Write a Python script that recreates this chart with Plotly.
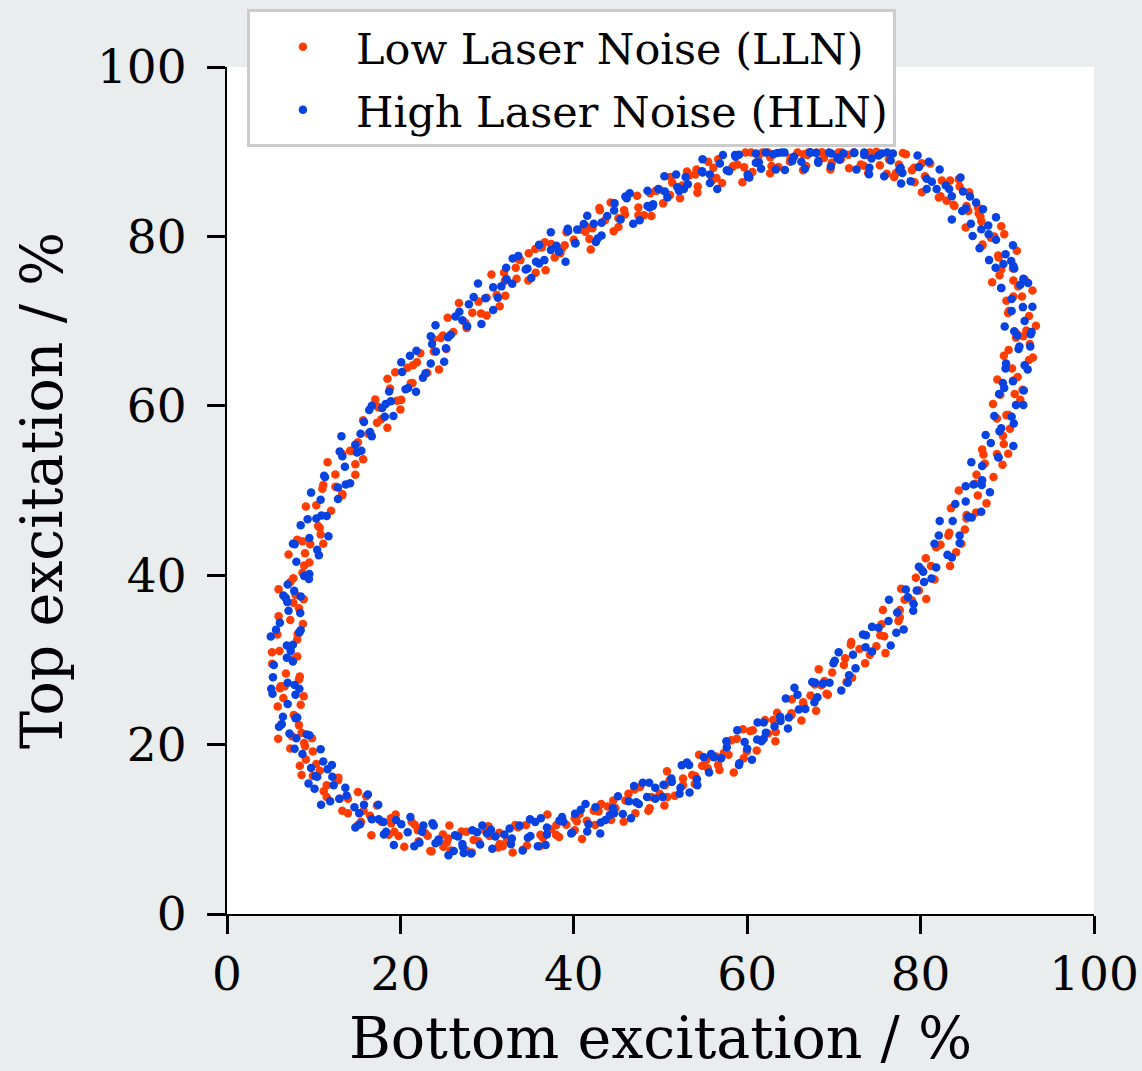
import plotly.graph_objects as go

# Points (Bottom %, Top %)
lln_points = [
    (92.6,67.3),(91.1,68.5),(92.2,68.9),(90.2,71.2),(91.7,72.9),(92.5,70.6),
    (90.7,72.9),(89.1,75.4),(92.0,74.9),(89.0,77.5),(91.1,78.3),(89.3,76.1),
    (89.3,81.2),(87.1,78.9),(88.5,80.0),(87.0,81.8),(85.5,83.0),(86.6,83.4),
    (83.0,84.2),(84.5,85.9),(85.3,83.6),(82.1,84.6),(80.5,87.1),(83.4,86.6),
    (79.0,87.8),(81.1,88.6),(79.3,86.4),(78.3,89.7),(76.1,87.4),(77.5,88.5),
    (75.3,88.4),(73.8,89.6),(74.9,90.0),(70.8,89.1),(72.3,89.9),(73.1,88.5),
    (69.6,87.9),(68.0,89.9),(70.9,89.9),(66.5,89.7),(68.6,89.9),(66.8,88.3),
    (65.8,89.9),(63.6,88.2),(65.0,89.3),(62.8,88.3),(61.3,89.5),(62.4,89.9),
    (58.3,88.2),(59.8,89.9),(60.6,87.6),(57.1,86.3),(55.5,88.8),(58.4,88.3),
    (54.0,87.3),(56.1,88.1),(54.3,85.9),(53.3,87.2),(51.1,84.9),(52.5,86.0),
    (50.3,83.9),(48.8,85.1),(49.9,85.5),(45.8,83.1),(47.3,84.8),(48.1,82.5),
    (44.6,80.6),(43.0,83.1),(45.9,82.6),(41.5,81.1),(43.6,81.9),(41.8,79.7),
    (40.8,80.8),(38.6,78.5),(40.0,79.6),(37.8,77.5),(36.3,78.7),(37.4,79.1),
    (33.3,76.3),(34.8,78.0),(35.6,75.7),(32.1,73.0),(30.5,75.5),(33.4,75.0),
    (29.0,72.3),(31.1,73.1),(29.3,70.9),(28.3,71.0),(26.1,68.7),(27.5,69.8),
    (25.3,66.7),(23.8,67.9),(24.9,68.3),(20.8,64.5),(22.3,66.2),(23.1,63.9),
    (20.1,60.7),(18.5,63.2),(21.4,62.7),(17.5,59.8),(19.6,60.6),(17.8,58.4),
    (17.3,58.0),(15.1,55.7),(16.5,56.8),(14.8,53.1),(13.3,54.3),(14.4,54.7),
    (11.0,50.2),(12.5,51.9),(13.3,49.6),(10.7,45.6),(9.1,48.1),(12.0,47.6),
    (8.7,44.0),(10.8,44.8),(9.0,42.6),(9.5,41.5),(7.3,39.2),(8.7,40.3),
    (8.3,36.1),(6.8,37.3),(7.9,37.7),(5.8,33.0),(7.3,34.7),(8.1,32.4),
    (6.8,28.4),(5.2,30.9),(8.1,30.4),(6.2,26.9),(8.3,27.7),(6.5,25.5),
    (8.5,24.7),(6.3,22.4),(7.7,23.5),(9.0,19.8),(7.5,21.0),(8.6,21.4),
    (8.4,17.5),(9.9,19.2),(10.7,16.9),(11.5,13.8),(9.9,16.3),(12.8,15.8),
    (13.0,13.6),(15.1,14.4),(13.3,12.2),(17.3,12.8),(15.1,10.5),(16.5,11.6),
    (19.3,9.7),(17.8,10.9),(18.9,11.3),(19.8,9.2),(21.3,10.9),(22.1,8.6),
    (23.6,7.4),(22.0,9.9),(24.9,9.4),(25.5,8.9),(27.6,9.7),(25.8,7.5),
    (29.8,9.8),(27.6,7.5),(29.0,8.6),(31.8,8.0),(30.3,9.2),(31.4,9.6),
    (32.3,8.7),(33.8,10.4),(34.6,8.1),(36.1,8.0),(34.5,10.5),(37.4,10.0),
    (38.0,10.5),(40.1,11.3),(38.3,9.1),(42.3,12.2),(40.1,9.9),(41.5,11.0),
    (44.3,11.1),(42.8,12.3),(43.9,12.7),(44.8,12.5),(46.3,14.2),(47.1,11.9),
    (48.6,12.2),(47.0,14.7),(49.9,14.2),(50.5,15.2),(52.6,16.0),(50.8,13.8),
    (54.8,17.5),(52.6,15.2),(54.0,16.3),(56.8,17.0),(55.3,18.2),(56.4,18.6),
    (57.3,19.0),(58.8,20.7),(59.6,18.4),(61.1,19.3),(59.5,21.8),(62.4,21.3),
    (63.0,22.9),(65.1,23.7),(63.3,21.5),(67.3,25.8),(65.1,23.5),(66.5,24.6),
    (69.3,25.9),(67.8,27.1),(68.9,27.5),(69.8,28.5),(71.3,30.2),(72.1,27.9),
    (73.6,29.6),(72.0,32.1),(74.9,31.6),(75.5,34.2),(77.6,35.0),(75.8,32.8),
    (79.8,38.2),(77.6,35.9),(79.0,37.0),(81.6,39.5),(80.1,40.7),(81.2,41.1),
    (81.8,43.3),(83.3,45.0),(84.1,42.7),(85.1,45.4),(83.5,47.9),(86.4,47.4),
    (86.3,50.8),(88.4,51.6),(86.6,49.4),(89.6,55.5),(87.4,53.2),(88.8,54.3),
    (90.3,57.3),(88.8,58.5),(89.9,58.9),(89.2,61.3),(90.7,63.0),(91.5,60.7),
    (91.2,63.4),(89.6,65.9),(92.5,65.4),
    (93.3,69.45),(91.0,68.05),(90.1,70.95),(90.7,74.8),(92.9,73.6),(89.9,72.4),
    (90.65,76.2),(88.25,74.6),(91.25,74.1),(87.15,79.05),(89.65,80.25),(88.95,77.75),
    (88.1,79.85),(86.9,82.35),(85.2,81.05),(85.6,85.2),(86.7,82.7),(83.9,83.6),
    (82.3,84.75),(84.4,86.75),(83.8,83.75),(82.45,86.6),(80.15,85.2),(79.25,88.1),
    (77.95,89.85),(80.15,88.65),(77.15,87.45),(76.35,89.1),(73.95,87.5),(76.95,87.0),
    (71.65,89.65),(74.15,89.9),(73.45,88.35),(71.75,88.05),(70.55,89.9),(68.85,89.25),
    (68.65,89.9),(69.75,88.7),(66.95,89.6),(64.95,88.8),(67.05,89.9),(66.45,87.8),
    (64.95,88.85),(62.65,87.45),(61.75,89.9),(60.45,89.9),(62.65,89.35),(59.65,88.15),
    (58.85,88.5),(56.45,86.9),(59.45,86.4),(54.15,87.9),(56.65,89.1),(55.95,86.6),
    (54.25,85.15),(53.05,87.65),(51.35,86.35),(51.15,87.0),(52.25,84.5),(49.45,85.4),
    (47.45,83.4),(49.55,85.4),(48.95,82.4),(47.45,82.5),(45.15,81.1),(44.25,84.0),
    (42.95,83.35),(45.15,82.15),(42.15,80.95),(41.35,80.55),(38.95,78.95),(41.95,78.45),
    (36.65,79.3),(39.15,80.5),(38.45,78.0),(36.75,76.0),(35.55,78.5),(33.85,77.2),
    (33.65,77.3),(34.75,74.8),(31.95,75.7),(29.95,72.75),(32.05,74.75),(31.45,71.75),
    (29.95,70.65),(27.65,69.25),(26.75,72.15),(25.45,70.4),(27.65,69.2),(24.65,68.0),
    (23.85,66.4),(21.45,64.8),(24.45,64.3),(19.4,63.95),(21.9,65.15),(21.2,62.65),
    (20.0,59.55),(18.8,62.05),(17.1,60.75),(17.4,59.9),(18.5,57.4),(15.7,58.3),
    (14.2,54.7),(16.3,56.7),(15.7,53.7),(14.8,51.85),(12.5,50.45),(11.6,53.35),
    (11.1,50.65),(13.3,49.45),(10.3,48.25),(10.5,45.8),(8.1,44.2),(11.1,43.7),
    (7.1,42.45),(9.6,43.65),(8.9,41.15),(8.85,37.15),(7.65,39.65),(5.95,38.35),
    (7.65,36.75),(8.75,34.25),(5.95,35.15),(6.05,31.05),(8.15,33.05),(7.55,30.05),
    (8.4,28.05),(6.1,26.65),(5.2,29.55),(6.65,26.9),(8.85,25.7),(5.85,24.5),
    (8.3,22.3),(5.9,20.7),(8.9,20.2),(7.3,19.55),(9.8,20.75),(9.1,18.25),
    (11.5,15.2),(10.3,17.7),(8.6,16.4),(12.85,16.1),(13.95,13.6),(11.15,14.5),
    (13.95,11.9),(16.05,13.9),(15.45,10.9),(18.95,10.7),(16.65,9.3),(15.75,12.2),
    (19.45,11.75),(21.65,10.55),(18.65,9.35),(22.85,9.55),(20.45,7.95),(23.45,7.45),
    (23.15,9.25),(25.65,10.45),(24.95,7.95),(28.25,7.25),(27.05,9.75),(25.35,8.45),
    (30.15,10.35),(31.25,7.85),(28.45,8.75),(31.45,8.25),(33.55,10.25),(32.95,7.25),
    (36.45,9.0),(34.15,7.6),(33.25,10.5),(36.95,11.75),(39.15,10.55),(36.15,9.35),
    (40.35,10.95),(37.95,9.35),(40.95,8.85),(40.65,11.8),(43.15,13.0),(42.45,10.5),
    (45.75,10.9),(44.55,13.4),(42.85,12.1),(47.65,15.0),(48.75,12.5),(45.95,13.4),
    (48.95,13.8),(51.05,15.8),(50.45,12.8),(53.95,15.35),(51.65,13.95),(50.75,16.85),
    (54.45,18.8),(56.65,17.6),(53.65,16.4),(57.85,18.8),(55.45,17.2),(58.45,16.7),
    (58.15,20.5),(60.65,21.7),(59.95,19.2),(63.25,20.4),(62.05,22.9),(60.35,21.6),
    (65.15,25.35),(66.25,22.85),(63.45,23.75),(66.45,25.0),(68.55,27.0),(67.95,24.0),
    (71.45,27.4),(69.15,26.0),(68.25,28.9),(71.95,31.8),(74.15,30.6),(71.15,29.4),
    (75.35,32.9),(72.95,31.3),(75.95,30.8),(75.65,35.9),(78.15,37.1),(77.45,34.6),
    (80.65,37.2),(79.45,39.7),(77.75,38.4),(82.3,43.6),(83.4,41.1),(80.6,42.0),
    (83.2,44.7),(85.3,46.7),(84.7,43.7),(87.6,48.5),(85.3,47.1),(84.4,50.0),
    (87.25,54.25),(89.45,53.05),(86.45,51.85),(89.5,56.45),(87.1,54.85),(90.1,54.35),
    (88.35,60.2),(90.85,61.4),(90.15,58.9),(91.75,61.9),(90.55,64.4),(88.85,63.1),
    (91.85,68.2),(92.95,65.7),(90.15,66.6),
]

hln_points = [
    (91.4,67.0),(92.8,68.7),(90.8,68.8),(92.0,70.0),(90.5,72.6),(92.9,71.7),
    (89.3,73.9),(90.8,76.2),(91.5,74.3),(90.7,76.5),(87.9,77.2),(89.8,77.9),
    (87.8,81.3),(88.7,79.6),(86.8,78.6),(85.8,81.5),(87.2,83.2),(85.2,83.3),
    (84.8,83.0),(83.3,85.6),(85.7,84.7),(80.7,85.6),(82.2,87.9),(82.9,86.0),
    (80.7,86.8),(77.9,87.5),(79.8,88.2),(76.8,89.8),(77.7,88.1),(75.8,87.1),
    (74.1,88.1),(75.5,89.8),(73.5,89.9),(72.6,87.9),(71.1,89.8),(73.5,89.6),
    (68.2,88.9),(69.7,89.8),(70.4,89.3),(68.2,88.7),(65.4,89.4),(67.3,89.9),
    (64.3,89.9),(65.2,88.9),(63.3,87.9),(61.6,88.0),(63.0,89.7),(61.0,89.8),
    (60.1,87.0),(58.6,89.6),(61.0,88.7),(55.7,87.3),(57.2,89.6),(57.9,87.7),
    (55.7,86.3),(52.9,87.0),(54.8,87.7),(51.8,87.3),(52.7,85.6),(50.8,84.6),
    (49.1,83.6),(50.5,85.3),(48.5,85.4),(47.6,81.9),(46.1,84.5),(48.5,83.6),
    (43.2,81.6),(44.7,83.9),(45.4,82.0),(43.2,80.1),(40.4,80.8),(42.3,81.5),
    (39.3,80.9),(40.2,79.2),(38.3,78.2),(36.6,77.2),(38.0,78.9),(36.0,79.0),
    (35.1,75.1),(33.6,77.7),(36.0,76.8),(30.7,74.0),(32.2,76.3),(32.9,74.4),
    (30.7,71.3),(27.9,72.0),(29.8,72.7),(26.8,71.1),(27.7,69.4),(25.8,68.4),
    (24.1,66.4),(25.5,68.1),(23.5,68.2),(22.6,63.3),(21.1,65.9),(23.5,65.0),
    (18.7,61.7),(20.2,64.0),(20.9,62.1),(19.2,58.8),(16.4,59.5),(18.3,60.2),
    (15.8,58.1),(16.7,56.4),(14.8,55.4),(13.6,52.8),(15.0,54.5),(13.0,54.6),
    (12.8,49.0),(11.3,51.6),(13.7,50.7),(9.3,46.6),(10.8,48.9),(11.5,47.0),
    (10.4,43.0),(7.6,43.7),(9.5,44.4),(8.0,41.6),(8.9,39.9),(7.0,38.9),
    (7.1,35.8),(8.5,37.5),(6.5,37.6),(7.6,31.8),(6.1,34.4),(8.5,33.5),
    (5.4,29.4),(6.9,31.7),(7.6,29.8),(7.9,25.9),(5.1,26.6),(7.0,27.3),
    (7.0,24.8),(7.9,23.1),(6.0,22.1),(7.8,19.5),(9.2,21.2),(7.2,21.3),
    (10.2,16.3),(8.7,18.9),(11.1,18.0),(10.1,14.8),(11.6,17.1),(12.3,15.2),
    (14.7,12.6),(11.9,13.3),(13.8,14.0),(15.8,12.9),(16.7,11.2),(14.8,10.2),
    (18.1,9.4),(19.5,11.1),(17.5,11.2),(21.6,8.0),(20.1,10.6),(22.5,9.7),
    (22.2,8.4),(23.7,10.7),(24.4,8.8),(27.2,7.9),(24.4,8.6),(26.3,9.3),
    (28.3,9.9),(29.2,8.2),(27.3,7.2),(30.6,7.7),(32.0,9.4),(30.0,9.5),
    (34.1,7.5),(32.6,10.1),(35.0,9.2),(34.7,9.0),(36.2,11.3),(36.9,9.4),
    (39.7,9.5),(36.9,10.2),(38.8,10.9),(40.8,12.3),(41.7,10.6),(39.8,9.6),
    (43.1,10.8),(44.5,12.5),(42.5,12.6),(46.6,11.3),(45.1,13.9),(47.5,13.0),
    (47.2,13.2),(48.7,15.5),(49.4,13.6),(52.2,14.2),(49.4,14.9),(51.3,15.6),
    (53.3,17.6),(54.2,15.9),(52.3,14.9),(55.6,16.7),(57.0,18.4),(55.0,18.5),
    (59.1,17.8),(57.6,20.4),(60.0,19.5),(59.7,20.3),(61.2,22.6),(61.9,20.7),
    (64.7,21.9),(61.9,22.6),(63.8,23.3),(65.8,25.9),(66.7,24.2),(64.8,23.2),
    (68.1,25.6),(69.5,27.3),(67.5,27.4),(71.6,27.3),(70.1,29.9),(72.5,29.0),
    (72.2,30.6),(73.7,32.9),(74.4,31.0),(77.2,33.2),(74.4,33.9),(76.3,34.6),
    (78.3,38.3),(79.2,36.6),(77.3,35.6),(80.4,39.2),(81.8,40.9),(79.8,41.0),
    (83.6,42.1),(82.1,44.7),(84.5,43.8),(83.7,46.4),(85.2,48.7),(85.9,46.8),
    (88.0,49.8),(85.2,50.5),(87.1,51.2),(88.1,55.6),(89.0,53.9),(87.1,52.9),
    (89.1,57.0),(90.5,58.7),(88.5,58.8),(91.0,60.1),(89.5,62.7),(91.9,61.8),
    (89.8,64.4),(91.3,66.7),(92.0,64.8),
    (91.8,71.65),(89.7,69.35),(92.7,68.45),(92.4,74.5),(90.5,71.2),(89.3,73.9),
    (88.65,76.3),(91.85,75.0),(90.45,77.1),(89.55,76.75),(87.85,80.25),(90.65,78.95),
    (86.0,80.05),(88.7,82.25),(87.0,80.85),(86.4,84.0),(83.6,82.0),(84.9,85.3),
    (81.3,86.45),(83.6,84.75),(84.6,86.95),(80.95,88.8),(78.85,86.5),(81.85,85.6),
    (79.65,89.55),(77.75,86.25),(76.55,88.95),(74.35,89.2),(77.55,87.9),(76.15,89.9),
    (74.05,87.35),(72.35,89.9),(75.15,89.55),(69.65,88.25),(72.35,89.85),(70.65,89.05),
    (69.45,89.9),(66.65,88.0),(67.95,89.85),(63.95,89.9),(66.25,88.8),(67.25,89.9),
    (63.45,89.85),(61.35,88.75),(64.35,87.85),(62.15,89.9),(60.25,86.95),(59.05,89.65),
    (56.85,88.6),(60.05,87.3),(58.65,89.4),(56.55,85.6),(54.85,89.1),(57.65,87.8),
    (52.15,85.35),(54.85,87.55),(53.15,86.15),(51.95,85.8),(49.15,83.8),(50.45,87.1),
    (46.45,85.1),(48.75,83.4),(49.75,85.6),(45.95,84.7),(43.85,82.4),(46.85,81.5),
    (44.65,83.05),(42.75,79.75),(41.55,82.45),(39.35,80.65),(42.55,79.35),(41.15,81.45),
    (39.05,77.0),(37.35,80.5),(40.15,79.2),(34.65,76.2),(37.35,78.4),(35.65,77.0),
    (34.45,76.1),(31.65,74.1),(32.95,77.4),(28.95,74.45),(31.25,72.75),(32.25,74.95),
    (28.45,72.85),(26.35,70.55),(29.35,69.65),(27.15,70.1),(25.25,66.8),(24.05,69.5),
    (21.85,66.5),(25.05,65.2),(23.65,67.3),(21.8,61.65),(20.1,65.15),(22.9,63.85),
    (17.9,59.75),(20.6,61.95),(18.9,60.55),(18.2,58.7),(15.4,56.7),(16.7,60.0),
    (13.2,56.4),(15.5,54.7),(16.5,56.9),(13.3,54.05),(11.2,51.75),(14.2,50.85),
    (12.8,50.35),(10.9,47.05),(9.7,49.75),(8.5,45.9),(11.7,44.6),(10.3,46.7),
    (9.5,40.15),(7.8,43.65),(10.6,42.35),(6.75,37.35),(9.45,39.55),(7.75,38.15),
    (8.45,35.55),(5.65,33.55),(6.95,36.85),(5.05,32.75),(7.35,31.05),(8.35,33.25),
    (6.9,30.25),(5.3,27.95),(7.8,27.05),(8.35,26.6),(6.45,23.3),(5.25,26.0),
    (6.3,22.4),(9.5,21.1),(8.1,23.2),(9.7,17.25),(8.0,20.75),(10.8,19.45),
    (9.4,15.4),(12.1,17.6),(10.4,16.2),(13.65,14.9),(10.85,12.9),(12.15,16.2),
    (12.95,13.6),(15.25,11.9),(16.25,14.1),(17.45,12.9),(15.35,10.6),(18.35,9.7),
    (21.15,11.45),(19.25,8.15),(18.05,10.85),(20.85,9.65),(24.05,8.35),(22.65,10.45),
    (25.55,6.95),(23.85,10.45),(26.65,9.15),(26.15,7.45),(28.85,9.65),(27.15,8.25),
    (30.95,9.15),(28.15,7.15),(29.45,10.45),(30.45,9.95),(32.75,8.25),(33.75,10.45),
    (34.95,11.2),(32.85,8.9),(35.85,8.0),(38.65,11.45),(36.75,8.15),(35.55,10.85),
    (38.35,11.05),(41.55,9.75),(40.15,11.85),(43.05,9.5),(41.35,13.0),(44.15,11.7),
    (43.65,11.1),(46.35,13.3),(44.65,11.9),(48.45,13.8),(45.65,11.8),(46.95,15.1),
    (47.95,15.5),(50.25,13.8),(51.25,16.0),(52.45,17.55),(50.35,15.25),(53.35,14.35),
    (56.15,18.5),(54.25,15.2),(53.05,17.9),(55.85,18.9),(59.05,17.6),(57.65,19.7),
    (60.55,18.2),(58.85,21.7),(61.65,20.4),(61.15,20.6),(63.85,22.8),(62.15,21.4),
    (65.95,24.15),(63.15,22.15),(64.45,25.45),(65.45,26.7),(67.75,25.0),(68.75,27.2),
    (69.95,29.6),(67.85,27.3),(70.85,26.4),(73.65,31.5),(71.75,28.2),(70.55,30.9),
    (73.35,33.0),(76.55,31.7),(75.15,33.8),(78.05,33.6),(76.35,37.1),(79.15,35.8),
    (78.55,37.4),(81.25,39.6),(79.55,38.2),(83.1,42.4),(80.3,40.4),(81.6,43.7),
    (82.2,46.4),(84.5,44.7),(85.5,46.9),(86.1,50.7),(84.0,48.4),(87.0,47.5),
    (88.95,53.95),(87.05,50.65),(85.85,53.35),(87.5,56.55),(90.7,55.25),(89.3,57.35),
    (90.75,57.9),(89.05,61.4),(91.85,60.1),(89.65,62.1),(92.35,64.3),(90.65,62.9),
    (92.65,67.0),(89.85,65.0),(91.15,68.3),
]

series_names = ["Low Laser Noise (LLN)", "High Laser Noise (HLN)"]
series_colors = ["#ff3d00", "#0842e0"]
tick_values = [0, 20, 40, 60, 80, 100]
x_title = "Bottom excitation / %"
y_title = "Top excitation / %"

FONT = "DejaVu Serif"

fig = go.Figure()
for i, (pts, name, color) in enumerate(zip([lln_points, hln_points], series_names, series_colors)):
    fig.add_trace(go.Scatter(
        x=[p[0] for p in pts],
        y=[p[1] for p in pts],
        mode="markers",
        name=name,
        legendgroup="g%d" % i,
        marker=dict(color=color, size=8.5, line=dict(width=0)),
    ))

axis_common = dict(
    range=[0, 100],
    tickvals=tick_values,
    showline=True, linecolor="black", linewidth=2,
    ticks="outside", ticklen=18, tickwidth=2.5, tickcolor="black",
    showgrid=False, zeroline=False, mirror=False,
    tickfont=dict(family=FONT, size=47, color="black"),
)

fig.update_layout(
    width=1142, height=1071,
    margin=dict(l=227, r=48, t=67, b=157, autoexpand=False),
    paper_bgcolor="#e9eded",
    plot_bgcolor="white",
    font=dict(family=FONT, color="black"),
    xaxis=dict(**axis_common,
               title=dict(text=x_title, font=dict(family=FONT, size=57), standoff=32),
               ticklabelstandoff=0),
    yaxis=dict(**axis_common,
               title=dict(text=y_title, font=dict(family=FONT, size=57), standoff=16),
               ticklabelstandoff=11),
    legend=dict(
        x=0.023, y=1.068, xanchor="left", yanchor="top",
        bgcolor="white", bordercolor="#cccccc", borderwidth=3,
        font=dict(family=FONT, size=43, color="black"),
        itemsizing="trace", itemwidth=96,
        tracegroupgap=4,
    ),
    showlegend=True,
)

fig.write_html("out.html", config={"displayModeBar": False},
               post_script="document.body.style.margin='0';")
